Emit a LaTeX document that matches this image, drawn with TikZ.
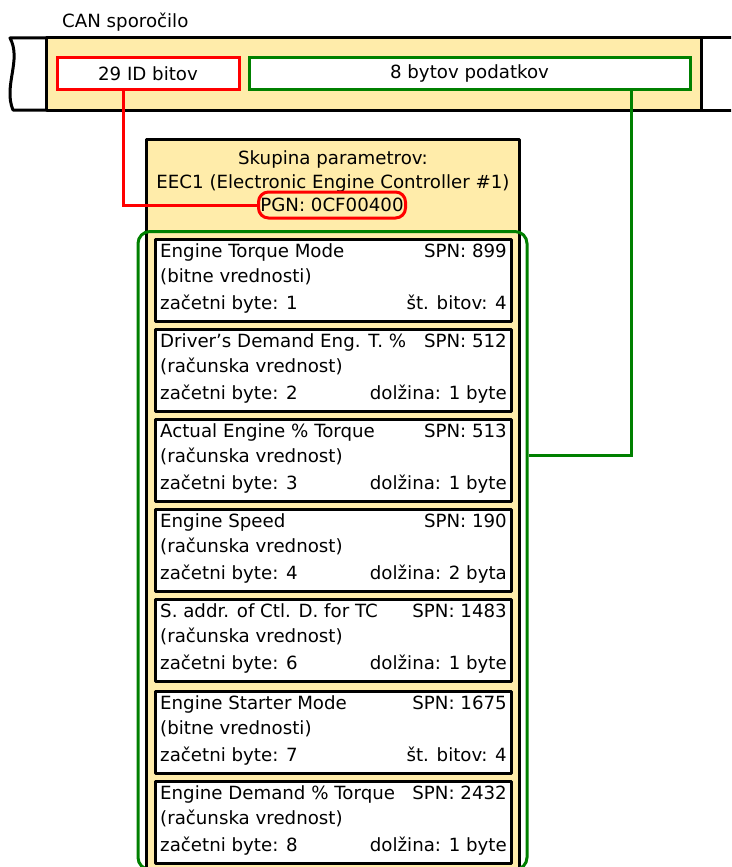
\documentclass[tikz,border=0pt]{standalone}
\usepackage{fontspec}
\setmainfont{DejaVu Sans}
\usetikzlibrary{calc}
\definecolor{bandyellow}{RGB}{255,236,170}
\definecolor{dgreen}{RGB}{0,128,0}
\newcommand{\spnrow}[7]{%
  \node[spnb, anchor=north] (#1) at (333,#2) {};
  \node[txt, anchor=base west] (#1t) at (160,#2+19) {#3};
  \node[txt, anchor=base east] (#1s) at (507,#2+19) {#4};
  \node[txt, anchor=base west] (#1k) at (160,#2+44) {#5};
  \node[txt, anchor=base west] (#1b) at (160,#2+71) {#6};
  \node[txt, anchor=base east] (#1l) at (507,#2+71) {#7};
}
\begin{document}
\begin{tikzpicture}[x=1pt,y=-1pt,
  font=\fontsize{18.2}{21}\selectfont,
  outl/.style={draw=black, line width=3pt, line join=round},
  redl/.style={draw=red, line width=3pt},
  greenl/.style={draw=dgreen, line width=3pt},
  txt/.style={inner sep=0pt},
  spnb/.style={outl, fill=white, minimum width=356pt, minimum height=82pt, inner sep=0pt}]
\useasboundingbox (0,0) rectangle (731,867);
\clip (0,0) rectangle (731,867);
\fill[white] (0,0) rectangle (731,867);

\node[txt, anchor=base west] (cantitle) at (62,28) {CAN sporočilo};

% CAN frame band
\draw[outl, fill=white] (46,38) -- (10,38) .. controls (22,60) and (3,86) .. (13,110) -- (46,110);
\draw[outl] (733,38) -- (701,38) -- (701,110) -- (733,110);
\node[outl, fill=bandyellow, minimum width=655pt, minimum height=72pt, inner sep=0pt] (band) at (373.5,74) {};
\node[redl, fill=white, minimum width=182pt, minimum height=31pt, inner sep=0pt] (idbox) at (148,73.5) {29 ID bitov};
\node[greenl, fill=white, minimum width=441pt, minimum height=31pt, inner sep=0pt] (databox) at (469.5,73.5) {8 bytov podatkov};

% parameter group
\node[outl, fill=bandyellow, minimum width=373pt, minimum height=742pt, anchor=north, inner sep=0pt] (grp) at (332.5,138) {};
\node[txt, anchor=base] (grpt1) at (333,164) {Skupina parametrov:};
\node[txt, anchor=base] (grpt2) at (333,188) {EEC1 (Electronic Engine Controller \#1)};
\node[redl, rounded corners=10pt, minimum width=147pt, minimum height=26pt, inner sep=0pt] (pgn) at (332,205) {PGN: 0CF00400};

\node[greenl, rounded corners=12pt, minimum width=389pt, minimum height=638pt, anchor=north, inner sep=0pt] (grpframe) at (332.5,230) {};

\spnrow{b1}{238}{Engine Torque Mode}{SPN: 899}{(bitne vrednosti)}{začetni byte: 1}{št. bitov: 4}
\spnrow{b2}{328}{Driver’s Demand Eng. T. \%}{SPN: 512}{(računska vrednost)}{začetni byte: 2}{dolžina: 1 byte}
\spnrow{b3}{418}{Actual Engine \% Torque}{SPN: 513}{(računska vrednost)}{začetni byte: 3}{dolžina: 1 byte}
\spnrow{b4}{508}{Engine Speed}{SPN: 190}{(računska vrednost)}{začetni byte: 4}{dolžina: 2 byta}
\spnrow{b5}{598}{S. addr. of Ctl. D. for TC}{SPN: 1483}{(računska vrednost)}{začetni byte: 6}{dolžina: 1 byte}
\spnrow{b6}{690}{Engine Starter Mode}{SPN: 1675}{(bitne vrednosti)}{začetni byte: 7}{št. bitov: 4}
\spnrow{b7}{780}{Engine Demand \% Torque}{SPN: 2432}{(računska vrednost)}{začetni byte: 8}{dolžina: 1 byte}

% connectors
\coordinate (rx) at (123,0);
\coordinate (gx) at (631,0);
\coordinate (gy) at (0,455);
\draw[redl] (idbox.south -| rx) |- (pgn.west);
\draw[greenl] (databox.south -| gx) |- (grpframe.east |- gy);
\end{tikzpicture}
\end{document}
